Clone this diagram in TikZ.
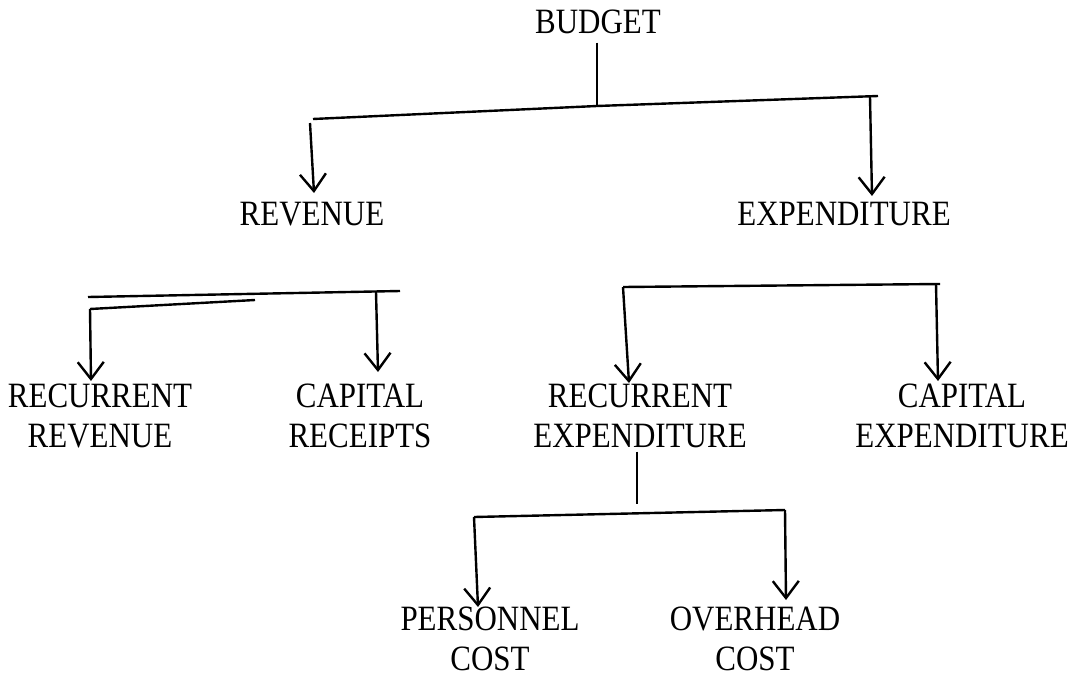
\documentclass[tikz,border=0pt]{standalone}
\usepackage{fontspec}
\setmainfont{Liberation Serif}[FakeStretch=0.87]
\usetikzlibrary{arrows.meta}
\begin{document}
\begin{tikzpicture}[x=1pt,y=-1pt,
 lbl/.style={font=\fontsize{35.6}{40}\selectfont, inner sep=0pt, align=center, anchor=base},
 link/.style={line width=2.4pt},
 arr/.style={line width=2.4pt, -{Straight Barb[length=17pt,width=26pt,line width=2.4pt]}}]
\useasboundingbox (0,0) rectangle (1075,677);
% labels (multi-line nodes: base = baseline of last line)
\node[lbl] (budget) at (598,34) {BUDGET};
\node[lbl] (revenue) at (312,225) {REVENUE};
\node[lbl] (expenditure) at (844,225) {EXPENDITURE};
\node[lbl] (recrev) at (100,447) {RECURRENT\\REVENUE};
\node[lbl] (caprec) at (360,447) {CAPITAL\\RECEIPTS};
\node[lbl] (recexp) at (640,447) {RECURRENT\\EXPENDITURE};
\node[lbl] (capexp) at (962,447) {CAPITAL\\EXPENDITURE};
\node[lbl] (personnel) at (490,670) {PERSONNEL\\COST};
\node[lbl] (overhead) at (755,670) {OVERHEAD\\COST};
% top split
\coordinate (bl) at (313,119);
\coordinate (bm) at (597,106);
\coordinate (br) at (878,96);
\coordinate (brs) at (870,97);
\draw[link] ([yshift=-8pt]budget.south -| bm) -- (bm);
\draw[link] (bl) -- (bm) -- (br);
\coordinate (t1) at (314,193);
\coordinate (t2) at (872,196);
\draw[arr] (310,123) -- (t1);
\draw[arr] (brs) -- (t2);
% revenue split
\coordinate (rl) at (90,309);
\coordinate (rr) at (376,292);
\draw[link] (88,297) -- (400,291);
\draw[link] (rl) -- (255,300);
\coordinate (t3) at (91,381);
\coordinate (t4) at (378,372);
\draw[arr] (rl) -- (t3);
\draw[arr] (rr) -- (t4);
% expenditure split
\coordinate (el) at (623,287);
\coordinate (er) at (936,284);
\draw[link] (el) -- (940,284);
\coordinate (t5) at (629,383);
\coordinate (t6) at (938,381);
\draw[arr] (el) -- (t5);
\draw[arr] (er) -- (t6);
% recurrent expenditure split
\coordinate (rm) at (637,504);
\draw[link] ([yshift=-4pt]recexp.south -| rm) -- (rm);
\coordinate (pl) at (474,517);
\coordinate (pr) at (785,510);
\draw[link] (pl) -- (pr);
\coordinate (t7) at (478,607);
\coordinate (t8) at (786,600);
\draw[arr] (pl) -- (t7);
\draw[arr] (pr) -- (t8);
\end{tikzpicture}
\end{document}
